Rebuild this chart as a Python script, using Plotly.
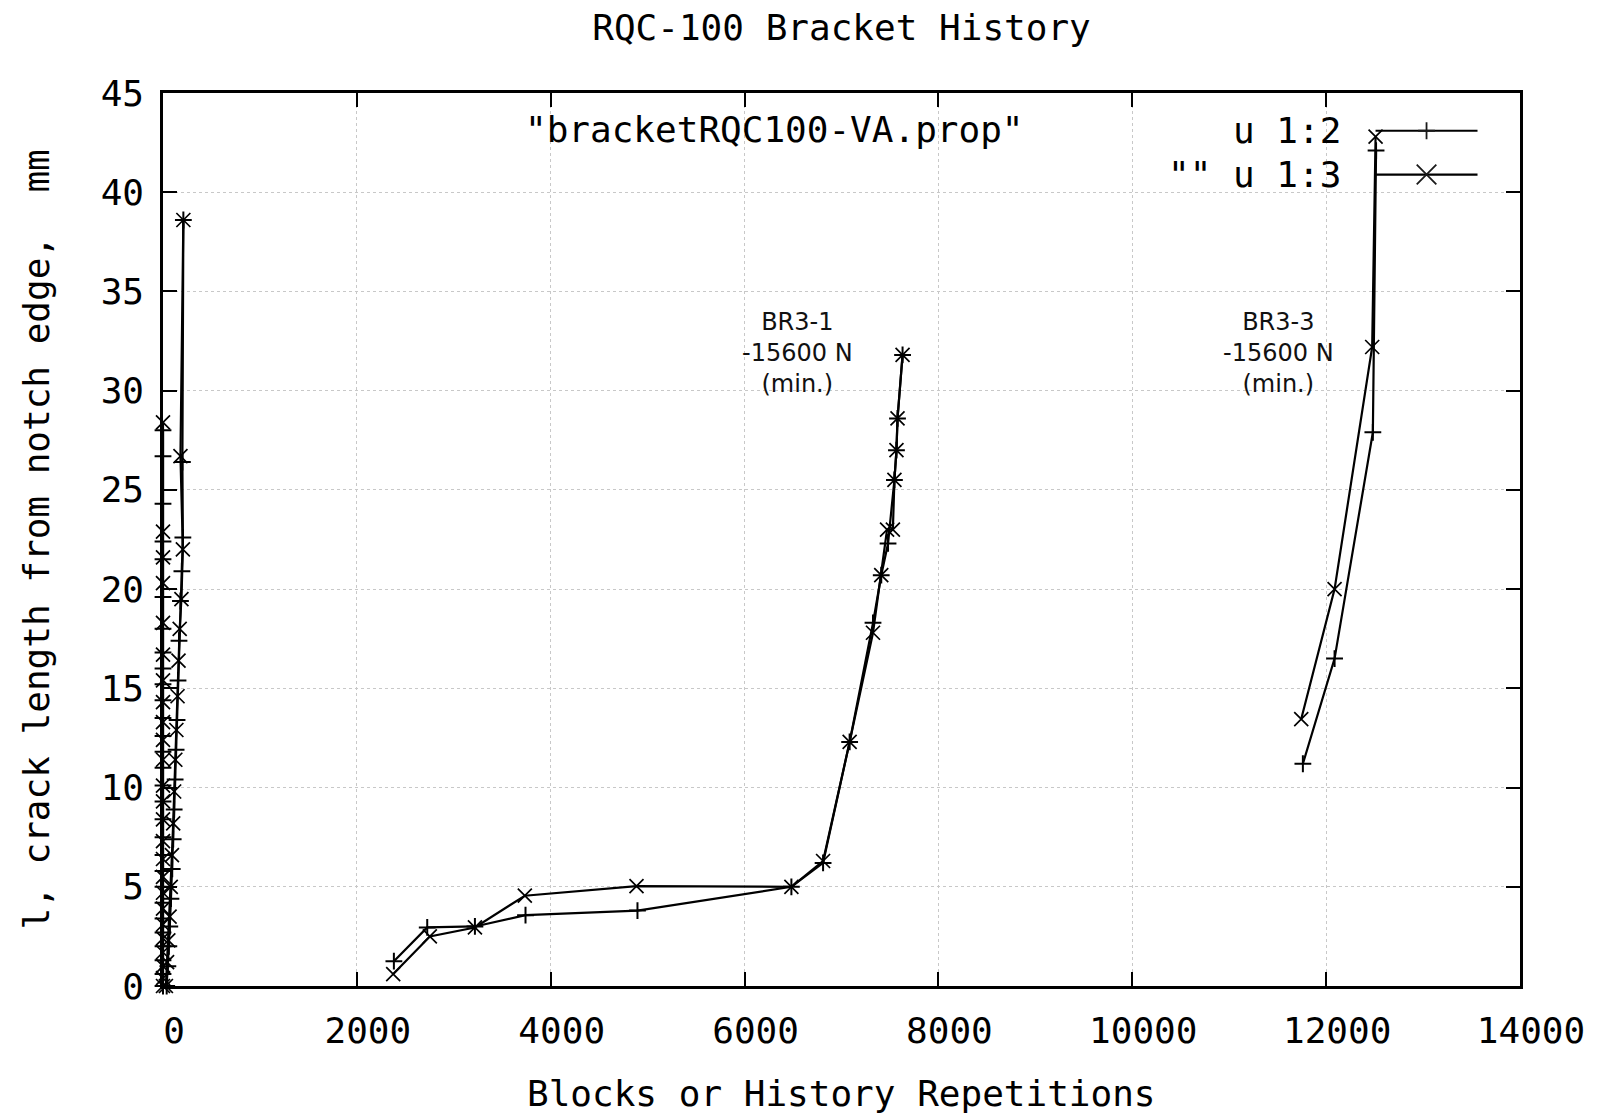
import plotly.graph_objects as go

# ---------------- data ----------------
# Early tests clustered near zero repetitions (block A near x=0, block B up to ~200)
a_x2 = [0, 0, 0, 0, 0, 0, 0, 0, 0, 0, 0, 0, 0, 0, 0, 0, 0, 0, 0, 0, 0, 0, 0, 0, 0, 0, 0, 0, 0]
a_y2 = [0.0, 0.6, 1.3, 2.0, 2.7, 3.4, 4.2, 5.0, 5.8, 6.6, 7.5, 8.4, 9.3, 10.1, 11.0, 11.8,
        12.6, 13.5, 14.4, 15.2, 16.0, 16.8, 18.0, 19.6, 21.5, 22.4, 24.3, 26.7, 28.0]
a_x3 = [0, 0, 0, 0, 0, 0, 0, 0, 0, 0, 0, 0, 0, 0, 0, 0, 0, 0, 0, 0, 0, 0, 0, 0, 0]
a_y3 = [0.0, 0.4, 1.0, 1.7, 2.4, 3.1, 3.9, 4.7, 5.5, 6.4, 7.3, 8.4, 9.3, 10.1, 11.4, 12.4,
        13.3, 14.3, 15.4, 16.7, 18.3, 20.3, 21.6, 22.9, 28.4]

b_x2 = [38, 50, 60, 70, 82, 95, 105, 115, 125, 135, 145, 155, 165, 180, 195, 205, 200, 210]
b_y2 = [0.0, 1.0, 2.0, 3.0, 4.4, 5.9, 7.4, 8.9, 10.4, 11.9, 13.4, 15.4, 17.4, 19.4, 20.9,
        22.6, 26.4, 38.6]
b_x3 = [30, 42, 55, 68, 80, 92, 105, 115, 127, 138, 150, 160, 172, 190, 205, 180, 210]
b_y3 = [0.0, 1.2, 2.3, 3.5, 5.0, 6.6, 8.2, 9.8, 11.4, 12.9, 14.6, 16.4, 18.0, 19.5, 22.0,
        26.7, 38.6]

# BR3-1
br1_x2 = [2382, 2726, 3218, 3740, 4895, 6483, 6810, 7084, 7325, 7410, 7480, 7546, 7567, 7578, 7630]
br1_y2 = [1.25, 2.95, 3.0, 3.57, 3.8, 5.0, 6.2, 12.3, 18.3, 20.7, 22.3, 25.5, 27.0, 28.6, 31.8]
br1_x3 = [2375, 2753, 3218, 3733, 4885, 6483, 6810, 7084, 7325, 7410, 7470, 7530, 7546, 7567, 7578, 7630]
br1_y3 = [0.6, 2.5, 2.95, 4.55, 5.03, 5.0, 6.3, 12.3, 17.8, 20.7, 23.0, 23.0, 25.5, 27.0, 28.6, 31.8]

# BR3-3
br3_x2 = [11760, 12087, 12482, 12515]
br3_y2 = [11.2, 16.5, 27.9, 42.1]
br3_x3 = [11743, 12087, 12475, 12510]
br3_y3 = [13.45, 20.0, 32.2, 42.8]

x_ticks = [0, 2000, 4000, 6000, 8000, 10000, 12000, 14000]
y_ticks = [0, 5, 10, 15, 20, 25, 30, 35, 40, 45]

title_text = "RQC-100 Bracket History"
x_title = "Blocks or History Repetitions"
y_title = "l, crack length from notch edge,  mm"
file_label = '"bracketRQC100-VA.prop"'
legend_names = ["u 1:2", '"" u 1:3']
notes = [("BR3-1<br>-15600 N<br>(min.)", 6550, 31.9),
         ("BR3-3<br>-15600 N<br>(min.)", 11509, 31.9)]


def join(*blocks):
    out = []
    for i, b in enumerate(blocks):
        if i:
            out.append(None)
        out.extend(b)
    return out


x2 = join(a_x2, b_x2, br1_x2, br3_x2)
y2 = join(a_y2, b_y2, br1_y2, br3_y2)
x3 = join(a_x3, b_x3, br1_x3, br3_x3)
y3 = join(a_y3, b_y3, br1_y3, br3_y3)

MONO = "DejaVu Sans Mono"
FS = 36

fig = go.Figure()
fig.add_trace(go.Scatter(
    x=x2, y=y2, mode="lines+markers", name=legend_names[0], cliponaxis=False,
    connectgaps=False,
    line=dict(color="black", width=2.2),
    marker=dict(symbol="cross-thin-open", size=12, line=dict(color="#1a1a1a", width=2)),
))
fig.add_trace(go.Scatter(
    x=x3, y=y3, mode="lines+markers", name=legend_names[1], cliponaxis=False,
    connectgaps=False,
    line=dict(color="black", width=2.2),
    marker=dict(symbol="x-thin-open", size=14, line=dict(color="#1a1a1a", width=1.7)),
))

W, H = 1598, 1117
L, R, T, B = 163, 1520.5, 92.7, 986.5
pw, ph = R - L, B - T


def px(xp):
    return (xp - L) / pw


def py(yp):
    return (B - yp) / ph


# custom gnuplot-style key (text right, sample at right)
shapes = []
annots = []
rows = [130.5, 174.3]
for i, (nm, yy) in enumerate(zip(legend_names, rows)):
    shapes.append(dict(type="line", xref="paper", yref="paper",
                       x0=px(1376), x1=px(1478), y0=py(yy), y1=py(yy),
                       line=dict(color="black", width=2.2)))
    if i == 0:
        path = "M-8.4,0 H8.4 M0,-8.4 V8.4"
    else:
        path = "M-9.8,-9.8 L9.8,9.8 M-9.8,9.8 L9.8,-9.8"
    shapes.append(dict(type="path", xref="paper", yref="paper",
                       xsizemode="pixel", ysizemode="pixel",
                       xanchor=px(1427), yanchor=py(yy), path=path,
                       line=dict(color="#1a1a1a", width=1.8)))
    annots.append(dict(xref="paper", yref="paper", x=px(1343), y=py(yy),
                       xanchor="right", yanchor="middle", text=nm, showarrow=False,
                       font=dict(family=MONO, size=FS, color="black")))

annots.append(dict(xref="paper", yref="paper", x=px(775), y=py(129.5),
                   xanchor="center", yanchor="middle", text=file_label, showarrow=False,
                   font=dict(family=MONO, size=FS, color="black")))

for txt, xx, yy in notes:
    annots.append(dict(xref="x", yref="y", x=xx, y=yy, xanchor="center", yanchor="middle",
                       text=txt, showarrow=False, align="center",
                       font=dict(family="DejaVu Sans", size=24, color="#111")))

# axis titles
annots.append(dict(xref="paper", yref="paper", x=0.5, y=0, xanchor="center", yanchor="middle",
                   yshift=-(1094 - B), text=x_title, showarrow=False,
                   font=dict(family=MONO, size=FS, color="black")))
annots.append(dict(xref="paper", yref="paper", x=0, y=0.5, xanchor="center", yanchor="middle",
                   xshift=-(L - 36), text=y_title, showarrow=False, textangle=-90,
                   font=dict(family=MONO, size=FS, color="black")))

fig.update_layout(
    width=W, height=H,
    margin=dict(l=L, r=W - R, t=T, b=H - B, pad=0),
    paper_bgcolor="white", plot_bgcolor="white",
    showlegend=False,
    title=dict(text=title_text, x=0.5, xref="paper", y=1 - 27.5 / H, yref="container",
               xanchor="center", yanchor="middle",
               font=dict(family=MONO, size=FS, color="black")),
    shapes=shapes, annotations=annots,
)

axis_common = dict(
    ticks="inside", ticklen=14, tickwidth=1.5, tickcolor="black",
    showline=True, linewidth=2.5, linecolor="black", mirror="ticks",
    showgrid=True, gridcolor="#c8c8c8", griddash="dot", gridwidth=1.3,
    zeroline=False, tickfont=dict(family=MONO, size=FS, color="black"),
)
fig.update_xaxes(range=[0, 14000], tickvals=x_ticks, ticktext=[str(v) for v in x_ticks],
                 ticklabelshift=11, ticklabelstandoff=11, **axis_common)
fig.update_yaxes(range=[0, 45], tickvals=y_ticks, ticktext=[str(v) for v in y_ticks],
                 ticklabelstandoff=9, **axis_common)

fig.write_html("out.html", config={"displayModeBar": False},
               post_script="document.body.style.margin='0';")
